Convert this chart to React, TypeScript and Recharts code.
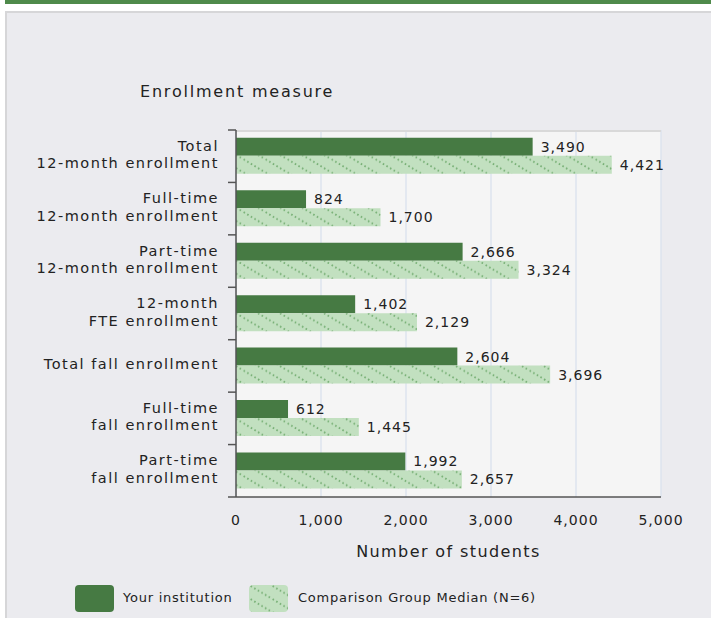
import React from 'react';
import { BarChart, Bar, XAxis, YAxis, CartesianGrid, LabelList } from 'recharts';

const CATEGORIES = [
  'Total\n12-month enrollment',
  'Full-time\n12-month enrollment',
  'Part-time\n12-month enrollment',
  '12-month\nFTE enrollment',
  'Total fall enrollment',
  'Full-time\nfall enrollment',
  'Part-time\nfall enrollment',
];
const INSTITUTION = [3490, 824, 2666, 1402, 2604, 612, 1992];
const COMPARISON = [4421, 1700, 3324, 2129, 3696, 1445, 2657];
const X_TICKS = [0, 1000, 2000, 3000, 4000, 5000];
const SERIES_NAMES = ['Your institution', 'Comparison Group Median (N=6)'];

const data = CATEGORIES.map((c, i) => ({ name: c, inst: INSTITUTION[i], comp: COMPARISON[i] }));

const FONT = '"DejaVu Sans", sans-serif';
const TEXT = '#222';
const DARK = '#467a43';
const LIGHT = '#c2e0c0';
const DOT = '#78b076';

const W = 711;
const H = 618;
const M_TOP = 130;
const M_RIGHT = 50;
const M_BOTTOM = 91;
const X_H = 30;
const Y_W = 236;
const PLOT_H = H - M_TOP - M_BOTTOM - X_H;
const BAND = PLOT_H / CATEGORIES.length;

const fmt = (v: number) => v.toLocaleString('en-US');

const PatternDef = ({ id }: { id: string }) => (
  <pattern id={id} patternUnits="userSpaceOnUse" width={22} height={13.2}>
    <rect x={0} y={0} width={22} height={13.2} fill={LIGHT} />
    <g stroke={DOT} strokeWidth={1.8} strokeDasharray="1.6 2.6" fill="none">
      <line x1={-2} y1={-1.2} x2={24} y2={14.4} />
    </g>
  </pattern>
);

const YTick = (props: any) => {
  const { x, y, payload, index } = props;
  const lines: string[] = String(payload.value).split('\n');
  const tx = x - 17;
  const offs = lines.length === 1 ? [-2] : [-10.5, 7];
  return (
    <g>
      <line x1={x - 8} x2={x} y1={y - BAND / 2} y2={y - BAND / 2} stroke="#555" strokeWidth={1.5} />
      {index === CATEGORIES.length - 1 && (
        <line x1={x - 8} x2={x} y1={y + BAND / 2} y2={y + BAND / 2} stroke="#555" strokeWidth={1.5} />
      )}
      {lines.map((l, i) => (
        <text
          key={i}
          x={tx}
          y={y + offs[i]}
          textAnchor="end"
          dominantBaseline="central"
          fontFamily={FONT}
          fontSize={14.5}
          letterSpacing={1.5}
          fill={TEXT}
        >
          {l}
        </text>
      ))}
    </g>
  );
};

const textStyle = (fs: number, ls: number): React.CSSProperties => ({
  position: 'absolute',
  fontFamily: FONT,
  fontSize: fs,
  letterSpacing: ls,
  color: TEXT,
  lineHeight: '20px',
  whiteSpace: 'nowrap',
});

const valueStyle = { fontFamily: FONT, fontSize: 14, fill: TEXT, letterSpacing: 1 };

export default function App() {
  return (
    <div style={{ position: 'absolute', left: 0, top: 0, width: W, height: H, overflow: 'hidden', background: '#fff' }}>
      <div style={{ position: 'absolute', left: 5, top: 0, width: W, height: 4, background: '#4f8a4b' }} />
      <div
        style={{
          position: 'absolute',
          left: 5,
          top: 11,
          width: W + 20,
          height: H + 20,
          background: '#ebebef',
          borderLeft: '2px solid #d6d6d8',
          borderTop: '2px solid #d6d6d8',
        }}
      />
      <div style={{ position: 'absolute', left: 0, top: 0 }}>
        <BarChart
          width={W}
          height={H}
          data={data}
          layout="vertical"
          margin={{ top: M_TOP, right: M_RIGHT, bottom: M_BOTTOM, left: 0 }}
          barCategoryGap="15%"
          barGap={0}
        >
          <defs>
            <PatternDef id="hatch" />
          </defs>
          <CartesianGrid horizontal={false} vertical fill="#f5f5f5" stroke="#dde3ee" strokeWidth={1.5} />
          <CartesianGrid horizontal vertical={false} horizontalPoints={[M_TOP + 1]} stroke="#d9d9d9" strokeWidth={2} />
          <XAxis
            type="number"
            domain={[0, 5000]}
            ticks={X_TICKS}
            height={X_H}
            tickLine={false}
            axisLine={{ stroke: '#555', strokeWidth: 1.5 }}
            tickMargin={12}
            tickFormatter={fmt}
            tick={valueStyle}
            interval={0}
          />
          <YAxis
            type="category"
            dataKey="name"
            width={Y_W}
            tickLine={false}
            tickSize={0}
            tickMargin={0}
            axisLine={{ stroke: '#555', strokeWidth: 1.5 }}
            tick={<YTick />}
            interval={0}
          />
          <Bar dataKey="inst" fill={DARK} isAnimationActive={false}>
            <LabelList
              dataKey="inst"
              position="right"
              offset={8}
              formatter={(v: any) => fmt(Number(v))}
              style={valueStyle}
            />
          </Bar>
          <Bar dataKey="comp" fill="url(#hatch)" isAnimationActive={false}>
            <LabelList
              dataKey="comp"
              position="right"
              offset={8}
              formatter={(v: any) => fmt(Number(v))}
              style={valueStyle}
            />
          </Bar>
        </BarChart>
      </div>
      <div style={{ ...textStyle(16, 1.8), left: 140, top: 82 }}>Enrollment measure</div>
      <div style={{ ...textStyle(16, 1.4), left: 236, width: 425, top: 542, textAlign: 'center' }}>Number of students</div>
      <div style={{ position: 'absolute', left: 75, top: 585, width: 39, height: 27, background: DARK, borderRadius: 4 }} />
      <div style={{ ...textStyle(13, 0.75), left: 123, top: 588 }}>{SERIES_NAMES[0]}</div>
      <svg style={{ position: 'absolute', left: 249, top: 585 }} width={39} height={27}>
        <defs>
          <PatternDef id="hatchLegend" />
        </defs>
        <rect x={0} y={0} width={39} height={27} rx={4} fill="url(#hatchLegend)" />
      </svg>
      <div style={{ ...textStyle(13, 0.75), left: 298, top: 588 }}>{SERIES_NAMES[1]}</div>
    </div>
  );
}
